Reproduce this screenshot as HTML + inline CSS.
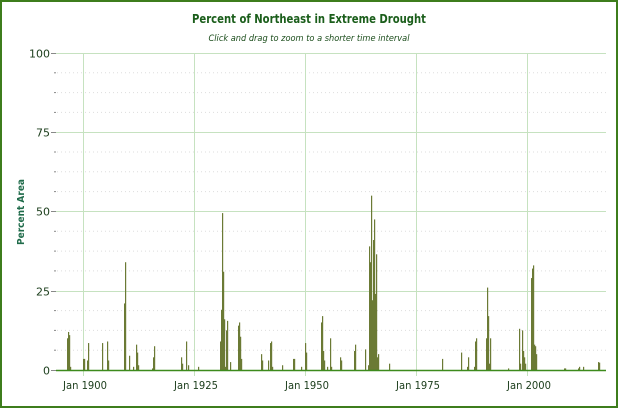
<!DOCTYPE html>
<html><head><meta charset="utf-8"><style>
body{margin:0;background:#fff}
svg{display:block;font-family:"DejaVu Sans","Liberation Sans",sans-serif}
</style></head><body>
<svg width="618" height="408" viewBox="0 0 618 408">
<rect x="1" y="1" width="616" height="406" fill="#fff" stroke="#3d7d1c" stroke-width="2"/>
<text x="309" y="23" text-anchor="middle" font-size="12" font-weight="bold" fill="#1b5e1b" textLength="234" lengthAdjust="spacingAndGlyphs">Percent of Northeast in Extreme Drought</text>
<text x="309" y="41" text-anchor="middle" font-size="9" font-style="italic" fill="#1b4d1b" textLength="201" lengthAdjust="spacingAndGlyphs">Click and drag to zoom to a shorter time interval</text>
<g stroke="#ddd" stroke-dasharray="1,3" stroke-width="1">
<line x1="57" x2="606" y1="72.8" y2="72.8"/><line x1="57" x2="606" y1="92.6" y2="92.6"/><line x1="57" x2="606" y1="112.4" y2="112.4"/>
<line x1="57" x2="606" y1="152" y2="152"/><line x1="57" x2="606" y1="171.8" y2="171.8"/><line x1="57" x2="606" y1="191.6" y2="191.6"/>
<line x1="57" x2="606" y1="231.3" y2="231.3"/><line x1="57" x2="606" y1="251.1" y2="251.1"/><line x1="57" x2="606" y1="270.9" y2="270.9"/>
<line x1="57" x2="606" y1="310.6" y2="310.6"/><line x1="57" x2="606" y1="330.4" y2="330.4"/><line x1="57" x2="606" y1="350.2" y2="350.2"/>
</g>
<g stroke="#c6e2c0" stroke-width="1">
<line x1="56" x2="606" y1="53.5" y2="53.5"/><line x1="56" x2="606" y1="132.5" y2="132.5"/><line x1="56" x2="606" y1="211.5" y2="211.5"/><line x1="56" x2="606" y1="291.5" y2="291.5"/>
<line x1="83.5" x2="83.5" y1="53" y2="376"/><line x1="194.5" x2="194.5" y1="53" y2="376"/><line x1="305.5" x2="305.5" y1="53" y2="376"/><line x1="416.5" x2="416.5" y1="53" y2="376"/><line x1="527.5" x2="527.5" y1="53" y2="376"/>
</g>
<g stroke="#888" stroke-width="1">
<line x1="51" x2="56" y1="53.5" y2="53.5"/><line x1="51" x2="56" y1="132.5" y2="132.5"/><line x1="51" x2="56" y1="211.5" y2="211.5"/><line x1="51" x2="56" y1="291.5" y2="291.5"/><line x1="51" x2="56" y1="370.5" y2="370.5"/>
<line x1="54" x2="56" y1="72.8" y2="72.8"/><line x1="54" x2="56" y1="92.6" y2="92.6"/><line x1="54" x2="56" y1="112.4" y2="112.4"/>
<line x1="54" x2="56" y1="152" y2="152"/><line x1="54" x2="56" y1="171.8" y2="171.8"/><line x1="54" x2="56" y1="191.6" y2="191.6"/>
<line x1="54" x2="56" y1="231.3" y2="231.3"/><line x1="54" x2="56" y1="251.1" y2="251.1"/><line x1="54" x2="56" y1="270.9" y2="270.9"/>
<line x1="54" x2="56" y1="310.6" y2="310.6"/><line x1="54" x2="56" y1="330.4" y2="330.4"/><line x1="54" x2="56" y1="350.2" y2="350.2"/>
</g>
<g font-size="11" fill="#1b3d1b" text-anchor="end">
<text x="50" y="57.5">100</text><text x="50" y="136.5">75</text><text x="50" y="215.5">50</text><text x="50" y="295.5">25</text><text x="50" y="374.5">0</text>
</g>
<g font-size="10.5" fill="#1b3d1b" text-anchor="middle">
<text x="85" y="389" textLength="44" lengthAdjust="spacingAndGlyphs">Jan 1900</text><text x="196" y="389" textLength="44" lengthAdjust="spacingAndGlyphs">Jan 1925</text><text x="307" y="389" textLength="44" lengthAdjust="spacingAndGlyphs">Jan 1950</text><text x="418" y="389" textLength="44" lengthAdjust="spacingAndGlyphs">Jan 1975</text><text x="529" y="389" textLength="44" lengthAdjust="spacingAndGlyphs">Jan 2000</text>
</g>
<text transform="translate(24,212) rotate(-90)" text-anchor="middle" font-size="10" font-weight="bold" fill="#1f6b4a" textLength="66" lengthAdjust="spacingAndGlyphs">Percent Area</text>
<g fill="#6b7a35" id="bars"></g>
<line x1="56" x2="606" y1="370.5" y2="370.5" stroke="#3d8a1c" stroke-width="1.5"/>
</svg>
<script>
var d=[[67,10],[68,12],[69,11],[70,1],[83,3.5],[84,3.5],[87,3],[88,8.5],[102,8.5],[107,9],[108,3],[124,21],[125,34],[129,4.5],[133,1],[136,8],[137,5.5],[138,1.5],[152,0.5],[153,4],[154,7.5],[181,4],[182,2],[186,9],[188,1.5],[198,1],[220,9],[221,19],[222,49.5],[223,31],[224,16],[225,1],[226,12.5],[227,15.5],[230,2.5],[238,14],[239,15],[240,10.5],[241,3.5],[261,5],[262,3],[268,3],[270,8.5],[271,9],[272,1],[282,1.5],[293,3.5],[294,3.5],[301,1],[305,8.5],[306,5.5],[321,15],[322,17],[323,6],[324,3],[327,1],[330,10],[331,1],[340,4],[341,3],[354,6],[355,8],[365,6.5],[368,1.5],[369,39],[370,34],[371,55],[372,22],[373,41],[374,47.5],[375,24],[376,36.5],[377,4],[378,5],[389,2],[442,3.5],[461,5.5],[467,1],[468,4],[474,1],[475,9],[476,10],[486,10],[487,26],[488,17],[489,2],[490,10],[508,0.5],[519,13],[520,2],[522,12.5],[523,6],[524,4],[525,2],[531,29],[532,32],[533,33],[534,8],[535,7.5],[536,5],[564,0.5],[565,0.5],[578,0.5],[579,1],[583,1],[598,2.5],[599,2.3]];
var g=document.getElementById('bars'),s='';
d.forEach(function(b){var h=b[1]*3.17;s+='<rect x="'+b[0]+'" y="'+(370-h)+'" width="1.2" height="'+h+'"/>';});
g.innerHTML=s;
</script>
</body></html>
